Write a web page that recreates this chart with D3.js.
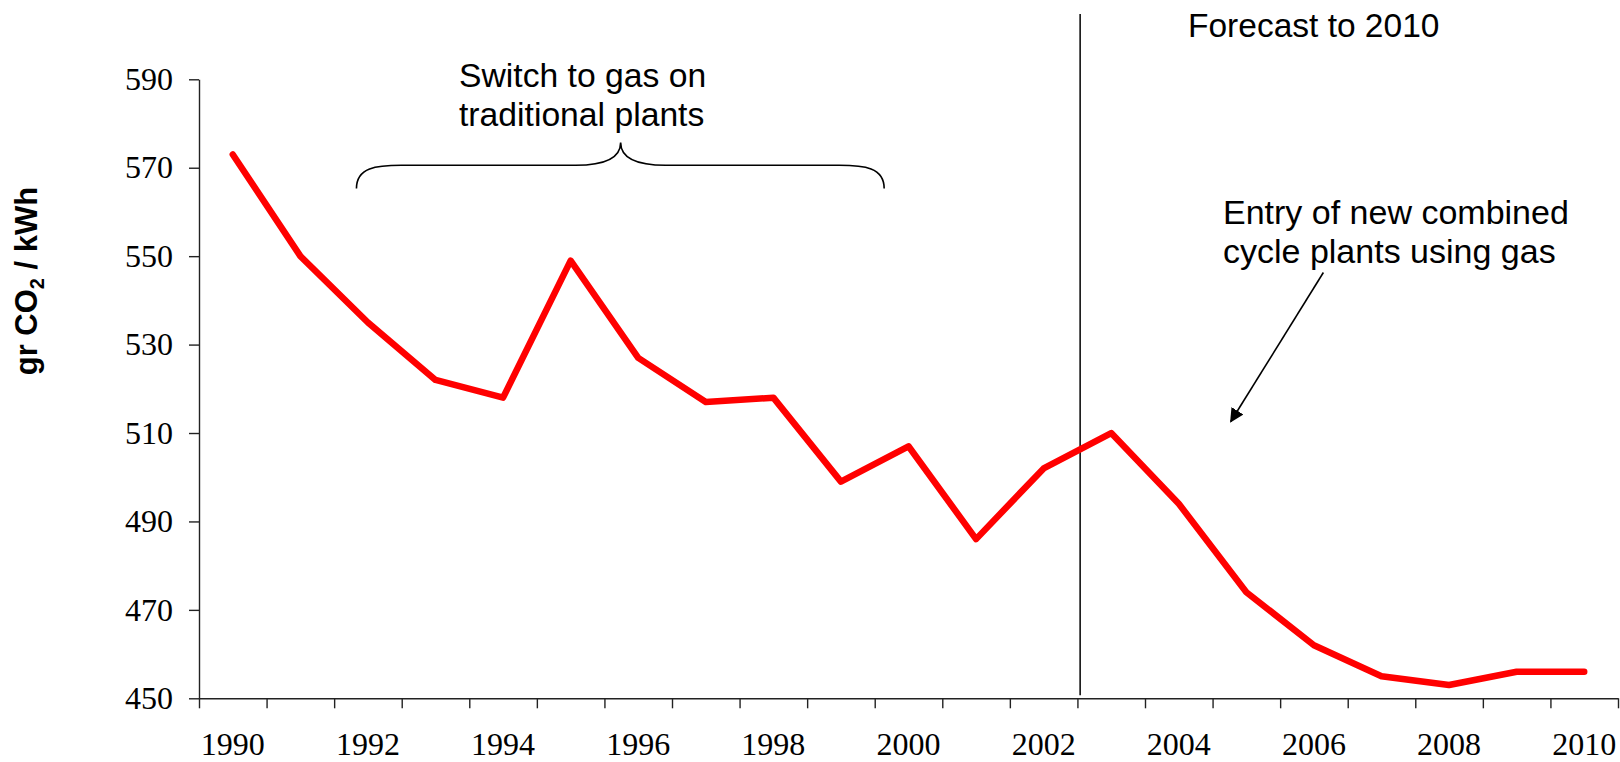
<!DOCTYPE html>
<html>
<head>
<meta charset="utf-8">
<script src="https://cdn.jsdelivr.net/npm/d3@7"></script>
<style>
  body { margin: 0; background: #fff; }
  svg { display: block; }
</style>
</head>
<body>
<script>
  // emission factor of electricity, gr CO2 per kWh
  let years = d3.range(1990, 2011);
  let values = [573, 550, 535, 522, 518, 549, 527, 517, 518, 499, 507,
                486, 502, 510, 494, 474, 462, 455, 453, 456, 456];
  let yTicks = [450, 470, 490, 510, 530, 550, 570, 590];
  let xLabels = [1990, 1992, 1994, 1996, 1998, 2000, 2002, 2004, 2006, 2008, 2010];

  let width = 1620;
  let height = 762;
  let plotLeft = 199, plotRight = 1618, plotTop = 79.3, plotBottom = 698.3;

  let svg = d3.select("body").append("svg")
    .attr("width", width)
    .attr("height", height);

  // category axis: one slot per year, ticks between slots
  let xSlot = d3.scaleLinear()
    .domain([0, years.length])
    .range([plotLeft, plotRight]);
  let xCenter = (yr) => xSlot(yr - 1990 + 0.5);

  let yScale = d3.scaleLinear()
    .domain([450, 590])
    .range([plotBottom, plotTop]);

  // y axis
  let yAxis = d3.axisLeft(yScale)
    .tickValues(yTicks)
    .tickSize(10)
    .tickSizeOuter(0)
    .tickPadding(16);
  let gy = svg.append("g")
    .attr("transform", "translate(" + plotLeft + ",0)")
    .call(yAxis);
  gy.selectAll("text")
    .style("font-family", "'Liberation Serif', 'Times New Roman', serif")
    .style("font-size", "32px")
    .attr("fill", "#000");

  // x axis (tick marks only, labels added below)
  let xAxis = d3.axisBottom(xSlot)
    .tickValues(d3.range(years.length + 1))
    .tickSize(10)
    .tickSizeOuter(0)
    .tickFormat("");
  svg.append("g")
    .attr("transform", "translate(0," + plotBottom + ")")
    .call(xAxis);

  svg.selectAll(".domain, .tick line")
    .attr("stroke", "#222")
    .attr("stroke-width", 1.4);

  svg.selectAll(".xlab")
    .data(xLabels)
    .enter()
    .append("text")
      .attr("class", "xlab")
      .attr("x", (d) => xCenter(d))
      .attr("y", 755)
      .attr("text-anchor", "middle")
      .style("font-family", "'Liberation Serif', 'Times New Roman', serif")
      .style("font-size", "32px")
      .text((d) => d);

  // y axis title
  let yTitle = svg.append("text")
    .attr("transform", "translate(37,281)rotate(-90)")
    .attr("text-anchor", "middle")
    .style("font-family", "'Liberation Sans', Arial, sans-serif")
    .style("font-weight", "bold")
    .style("font-size", "31px");
  yTitle.append("tspan").text("gr CO");
  yTitle.append("tspan").text("2").attr("dy", 7).style("font-size", "20px");
  yTitle.append("tspan").text(" / kWh").attr("dy", -7);

  // forecast divider
  let forecastSlot = 13.04;
  svg.append("line")
    .attr("x1", xSlot(forecastSlot))
    .attr("x2", xSlot(forecastSlot))
    .attr("y1", 14)
    .attr("y2", yScale(450) - 3)
    .attr("stroke", "#000")
    .attr("stroke-width", 1.5);

  // data line
  let line = d3.line()
    .x((d, i) => xCenter(years[i]))
    .y((d) => yScale(d));
  svg.append("path")
    .datum(values)
    .attr("fill", "none")
    .attr("stroke", "#ff0000")
    .attr("stroke-width", 6.5)
    .attr("stroke-linejoin", "round")
    .attr("stroke-linecap", "round")
    .attr("d", line);

  // annotations
  let annFont = "'Liberation Sans', Arial, sans-serif";
  function addText(x, y, lines, size) {
    let t = svg.append("text")
      .style("font-family", annFont)
      .style("font-size", size + "px")
      .attr("fill", "#000");
    lines.forEach((s, i) => {
      t.append("tspan").attr("x", x).attr("y", y + i * 39).text(s);
    });
  }
  addText(1188, 36.7, ["Forecast to 2010"], 33.5);
  addText(459, 87.3, ["Switch to gas on", "traditional plants"], 33.7);
  addText(1223, 223.5, ["Entry of new combined", "cycle plants using gas"], 34);

  // curly brace over 1992-1999
  let bL = xSlot(2.33), bR = xSlot(10.14), bM = xSlot(6.24);
  let yEnd = yScale(565.3), yMid = yScale(570.55), yPeak = yScale(575.7);
  let brace = "M" + bL + "," + yEnd +
    " C" + bL + "," + (yMid + 2) + " " + (bL + 20) + "," + yMid + " " + (bL + 45) + "," + yMid +
    " L" + (bM - 45) + "," + yMid +
    " C" + (bM - 15) + "," + yMid + " " + bM + "," + (yMid - 8) + " " + bM + "," + yPeak +
    " C" + bM + "," + (yMid - 8) + " " + (bM + 15) + "," + yMid + " " + (bM + 45) + "," + yMid +
    " L" + (bR - 45) + "," + yMid +
    " C" + (bR - 20) + "," + yMid + " " + bR + "," + (yMid + 2) + " " + bR + "," + yEnd;
  svg.append("path")
    .attr("d", brace)
    .attr("fill", "none")
    .attr("stroke", "#000")
    .attr("stroke-width", 1.6);

  // arrow toward the forecast drop
  svg.append("defs").append("marker")
    .attr("id", "head")
    .attr("viewBox", "0 0 10 10")
    .attr("refX", 9)
    .attr("refY", 5)
    .attr("markerWidth", 14)
    .attr("markerHeight", 14)
    .attr("markerUnits", "userSpaceOnUse")
    .attr("orient", "auto")
    .append("path")
      .attr("d", "M0,0 L10,5 L0,10 z")
      .attr("fill", "#000");
  svg.append("line")
    .attr("x1", xSlot(16.64))
    .attr("y1", yScale(546.3))
    .attr("x2", xSlot(15.27))
    .attr("y2", yScale(512.6))
    .attr("stroke", "#000")
    .attr("stroke-width", 1.6)
    .attr("marker-end", "url(#head)");
</script>
</body>
</html>
